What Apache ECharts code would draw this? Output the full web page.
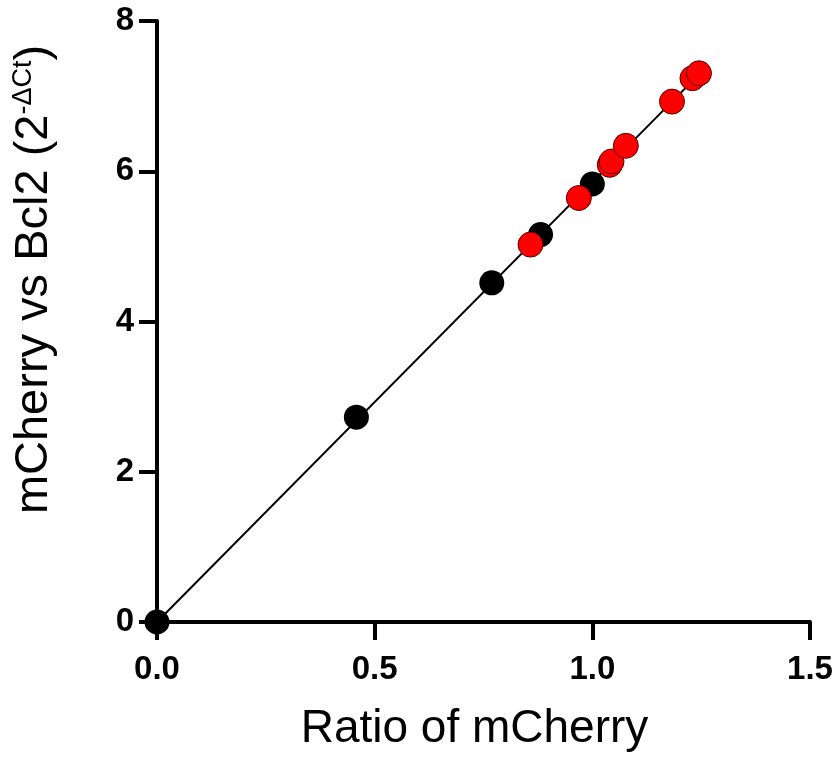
<!DOCTYPE html>
<html><head><meta charset="utf-8">
<script src="https://cdn.jsdelivr.net/npm/echarts@6/dist/echarts.min.js"></script>
<style>html,body{margin:0;padding:0;background:#fff}#c{width:839px;height:757px}</style>
</head><body><div id="c"></div>
<script>
var blackX = [0, 0.458, 0.769, 0.881, 1.000];
var blackY = [0, 2.726, 4.515, 5.157, 5.830];
var redX = [0.858, 0.969, 1.040, 1.044, 1.077, 1.183, 1.230, 1.245];
var redY = [5.024, 5.644, 6.086, 6.130, 6.339, 6.927, 7.238, 7.304];
var lineX = [0, 1.25];
var lineY = [0, 7.32];
var xTicks = ['0.0', '0.5', '1.0', '1.5'];
var yTicks = ['0', '2', '4', '6', '8'];

function zip(a, b) { return a.map(function (v, i) { return [v, b[i]]; }); }
var chart = echarts.init(document.getElementById('c'));
var font = 'Liberation Sans, Arial, Helvetica, sans-serif';
chart.setOption({
  animation: false,
  grid: { left: 157, right: 29, top: 21, bottom: 134 },
  xAxis: {
    type: 'value', min: 0, max: 1.5, interval: 0.5,
    axisLine: { lineStyle: { color: '#000', width: 4 } },
    axisTick: { length: 18, lineStyle: { color: '#000', width: 4 } },
    splitLine: { show: false },
    axisLabel: { color: '#000', fontSize: 33, fontWeight: 'bold', fontFamily: font, margin: 31,
      formatter: function (v) { return xTicks[Math.round(v / 0.5)]; } },
    name: 'Ratio of mCherry', nameLocation: 'middle', nameGap: 84,
    nameTextStyle: { color: '#000', fontSize: 46, fontFamily: font, padding: [0, 18, 0, 0] }
  },
  yAxis: {
    type: 'value', min: 0, max: 8, interval: 2,
    axisLine: { lineStyle: { color: '#000', width: 4 } },
    axisTick: { length: 18, lineStyle: { color: '#000', width: 4 } },
    splitLine: { show: false },
    axisLabel: { color: '#000', fontSize: 33, fontWeight: 'bold', fontFamily: font, margin: 23,
      formatter: function (v) { return yTicks[Math.round(v / 2)]; } },
    name: '{a|mCherry vs Bcl2 (2}{s|-ΔCt}{a|)}', nameLocation: 'middle', nameGap: 98, nameRotate: 90,
    nameTextStyle: { color: '#000', fontFamily: font, padding: [0, 0, 0, 84],
      rich: { a: { fontSize: 47, fontFamily: font, color: '#000' },
              s: { fontSize: 27, fontFamily: font, color: '#000', verticalAlign: 'top', padding: [0, 0, 22, 0] } } }
  },
  series: [
    { type: 'line', data: zip(lineX, lineY), symbol: 'none', lineStyle: { color: '#000', width: 2 }, z: 1 },
    { type: 'scatter', data: zip(blackX, blackY), symbolSize: 25, itemStyle: { color: '#000', opacity: 1 }, z: 2 },
    { type: 'scatter', data: zip(redX, redY), symbolSize: 25, itemStyle: { color: '#ff0000', borderColor: '#5a0000', borderWidth: 1, opacity: 1 }, z: 3 }
  ]
});
</script></body></html>
